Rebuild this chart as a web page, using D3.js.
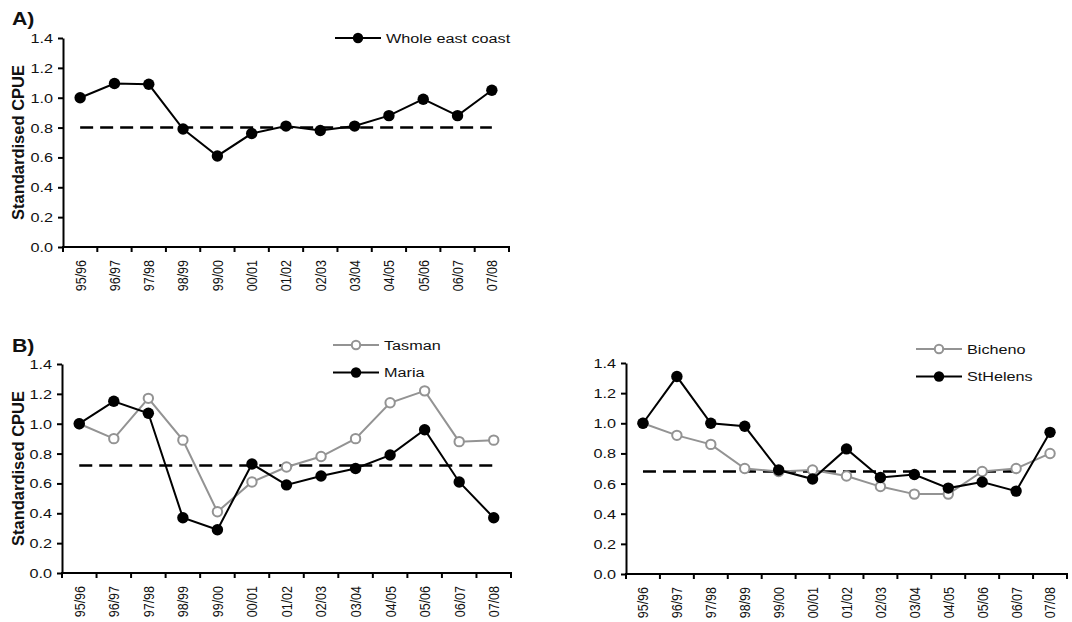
<!DOCTYPE html>
<html>
<head>
<meta charset="utf-8">
<script src="https://cdn.jsdelivr.net/npm/d3@7"></script>
<style>
  html, body { margin: 0; padding: 0; background: #ffffff; }
  svg { display: block; }
</style>
</head>
<body>
<svg id="chart" width="1072" height="622"></svg>
<script>
// Fishing seasons on the x axis
const seasons = ["95/96", "96/97", "97/98", "98/99", "99/00", "00/01", "01/02",
                 "02/03", "03/04", "04/05", "05/06", "06/07", "07/08"];

// Standardised CPUE, whole east coast
const wholeEastCoast = [1.00, 1.095, 1.09, 0.79, 0.61, 0.76, 0.81, 0.78, 0.81, 0.88, 0.99, 0.88, 1.05];

// Regional series
const tasman   = [1.00, 0.90, 1.17, 0.89, 0.41, 0.61, 0.71, 0.78, 0.90, 1.14, 1.22, 0.88, 0.89];
const maria    = [1.00, 1.15, 1.07, 0.37, 0.29, 0.73, 0.59, 0.65, 0.70, 0.79, 0.96, 0.61, 0.37];
const bicheno  = [1.00, 0.92, 0.86, 0.70, 0.68, 0.69, 0.65, 0.58, 0.53, 0.53, 0.68, 0.70, 0.80];
const stHelens = [1.00, 1.31, 1.00, 0.98, 0.69, 0.63, 0.83, 0.64, 0.66, 0.57, 0.61, 0.55, 0.94];

// Reference levels (dashed lines) and the seasons they span
const refWhole = 0.80;
const refTasmanMaria = 0.72;
const refBichenoStHelens = 0.68;
const refSpanFull = ["95/96", "07/08"];
const refSpanShort = ["95/96", "06/07"];

// Y axis ticks
const yTicks = [0.0, 0.2, 0.4, 0.6, 0.8, 1.0, 1.2, 1.4];

const BLACK = "#000000";
const GREY = "#939393";
const FONT = "Arial, 'Liberation Sans', Helvetica, sans-serif";

const svg = d3.select("#chart");

function drawPanel(cfg) {
  const g = svg.append("g");
  const x = d3.scaleBand().domain(seasons).range([cfg.left, cfg.right]).padding(0);
  const y = d3.scaleLinear().domain([0, 1.4]).range([cfg.bottom, cfg.top]);
  const cx = d => x(d) + x.bandwidth() / 2;

  // y axis
  const yAxis = d3.axisLeft(y)
    .tickValues(yTicks)
    .tickFormat(d3.format(".1f"))
    .tickSize(5)
    .tickSizeOuter(0);
  const ya = g.append("g").attr("transform", `translate(${cfg.left},0)`).call(yAxis);
  ya.select(".domain").attr("stroke", BLACK).attr("stroke-width", 2);
  ya.selectAll(".tick line").attr("stroke", BLACK).attr("stroke-width", 2);
  ya.selectAll(".tick text")
    .attr("x", 0)
    .attr("dy", "0.36em")
    .attr("font-family", FONT)
    .attr("font-size", 12.5)
    .attr("fill", "#111")
    .attr("text-anchor", "end")
    .attr("transform", "translate(-10,0) scale(1.3,1)");

  // x axis: line, ticks at season boundaries, rotated labels at centres
  const xa = g.append("g");
  xa.append("line")
    .attr("x1", cfg.left - 1).attr("x2", cfg.right + 1)
    .attr("y1", y(0)).attr("y2", y(0))
    .attr("stroke", BLACK).attr("stroke-width", 2);
  const edges = seasons.map(s => x(s)).concat([x(seasons[seasons.length - 1]) + x.bandwidth()]);
  xa.selectAll("line.tk").data(edges).enter().append("line")
    .attr("class", "tk")
    .attr("x1", d => d).attr("x2", d => d)
    .attr("y1", y(0)).attr("y2", y(0) + 5)
    .attr("stroke", BLACK).attr("stroke-width", 2);
  xa.selectAll("text").data(seasons).enter().append("text")
    .attr("x", 0).attr("y", 0)
    .attr("dy", "0.36em")
    .attr("text-anchor", "end")
    .attr("font-family", FONT)
    .attr("font-size", 12.5)
    .attr("fill", "#111")
    .attr("transform", d => `translate(${cx(d)},${y(0) + 13}) scale(1.2,1) rotate(-90)`)
    .text(d => d);

  // dashed reference line
  g.append("line")
    .attr("x1", cx(cfg.refSpan[0])).attr("x2", cx(cfg.refSpan[1]))
    .attr("y1", y(cfg.ref)).attr("y2", y(cfg.ref))
    .attr("stroke", BLACK).attr("stroke-width", 2.5)
    .attr("stroke-dasharray", "13,7");

  // series
  const line = d3.line().x((d, i) => cx(seasons[i])).y(d => y(d));
  cfg.series.forEach(s => {
    g.append("path")
      .datum(s.values)
      .attr("d", line)
      .attr("fill", "none")
      .attr("stroke", s.color)
      .attr("stroke-width", 2);
    g.selectAll(null).data(s.values).enter().append("circle")
      .attr("cx", (d, i) => cx(seasons[i]))
      .attr("cy", d => y(d))
      .attr("r", s.open ? 4.7 : 5.7)
      .attr("fill", s.open ? "#ffffff" : s.color)
      .attr("stroke", s.color)
      .attr("stroke-width", s.open ? 2 : 0);
  });

  // legend
  cfg.legend.forEach((item, k) => {
    const s = cfg.series.find(d => d.name === item);
    const ly = cfg.legendY + k * cfg.legendGap;
    const lg = g.append("g");
    lg.append("line")
      .attr("x1", cfg.legendX).attr("x2", cfg.legendX + 46)
      .attr("y1", ly).attr("y2", ly)
      .attr("stroke", s.color).attr("stroke-width", 2);
    lg.append("circle")
      .attr("cx", cfg.legendX + 23).attr("cy", ly)
      .attr("r", s.open ? 4.2 : 5.2)
      .attr("fill", s.open ? "#ffffff" : s.color)
      .attr("stroke", s.color)
      .attr("stroke-width", s.open ? 2 : 0);
    lg.append("text")
      .attr("x", 0).attr("y", 0)
      .attr("dy", "0.36em")
      .attr("font-family", FONT)
      .attr("font-size", 13.5)
      .attr("fill", "#111")
      .attr("transform", `translate(${cfg.legendX + 51},${ly}) scale(1.2,1)`)
      .text(s.name);
  });

  // y axis title
  if (cfg.yTitle) {
    g.append("text")
      .attr("x", 0).attr("y", 0)
      .attr("dy", "0.36em")
      .attr("text-anchor", "middle")
      .attr("font-family", FONT)
      .attr("font-weight", "bold")
      .attr("font-size", 16.5)
      .attr("fill", "#111")
      .attr("transform", `translate(18,${(cfg.top + cfg.bottom) / 2}) rotate(-90)`)
      .text(cfg.yTitle);
  }

  // panel letter
  if (cfg.letter) {
    g.append("text")
      .attr("x", 0).attr("y", 0)
      .attr("font-family", FONT)
      .attr("font-weight", "bold")
      .attr("font-size", 18.5)
      .attr("fill", "#111")
      .attr("transform", `translate(12,${cfg.letterY}) scale(1.15,1)`)
      .text(cfg.letter);
  }
}

drawPanel({
  left: 63, right: 509, top: 38, bottom: 247,
  ref: refWhole, refSpan: refSpanFull,
  series: [{ name: "Whole east coast", values: wholeEastCoast, color: BLACK, open: false }],
  legend: ["Whole east coast"], legendX: 335, legendY: 38, legendGap: 27.5,
  yTitle: "Standardised CPUE", letter: "A)", letterY: 25
});

drawPanel({
  left: 62, right: 511, top: 364, bottom: 573,
  ref: refTasmanMaria, refSpan: refSpanFull,
  series: [
    { name: "Tasman", values: tasman, color: GREY, open: true },
    { name: "Maria", values: maria, color: BLACK, open: false }
  ],
  legend: ["Tasman", "Maria"], legendX: 333, legendY: 345, legendGap: 27.5,
  yTitle: "Standardised CPUE", letter: "B)", letterY: 352
});

drawPanel({
  left: 626, right: 1067, top: 363, bottom: 574,
  ref: refBichenoStHelens, refSpan: refSpanShort,
  series: [
    { name: "Bicheno", values: bicheno, color: GREY, open: true },
    { name: "StHelens", values: stHelens, color: BLACK, open: false }
  ],
  legend: ["Bicheno", "StHelens"], legendX: 916, legendY: 349, legendGap: 27.5,
  yTitle: null, letter: null
});
</script>
</body>
</html>
